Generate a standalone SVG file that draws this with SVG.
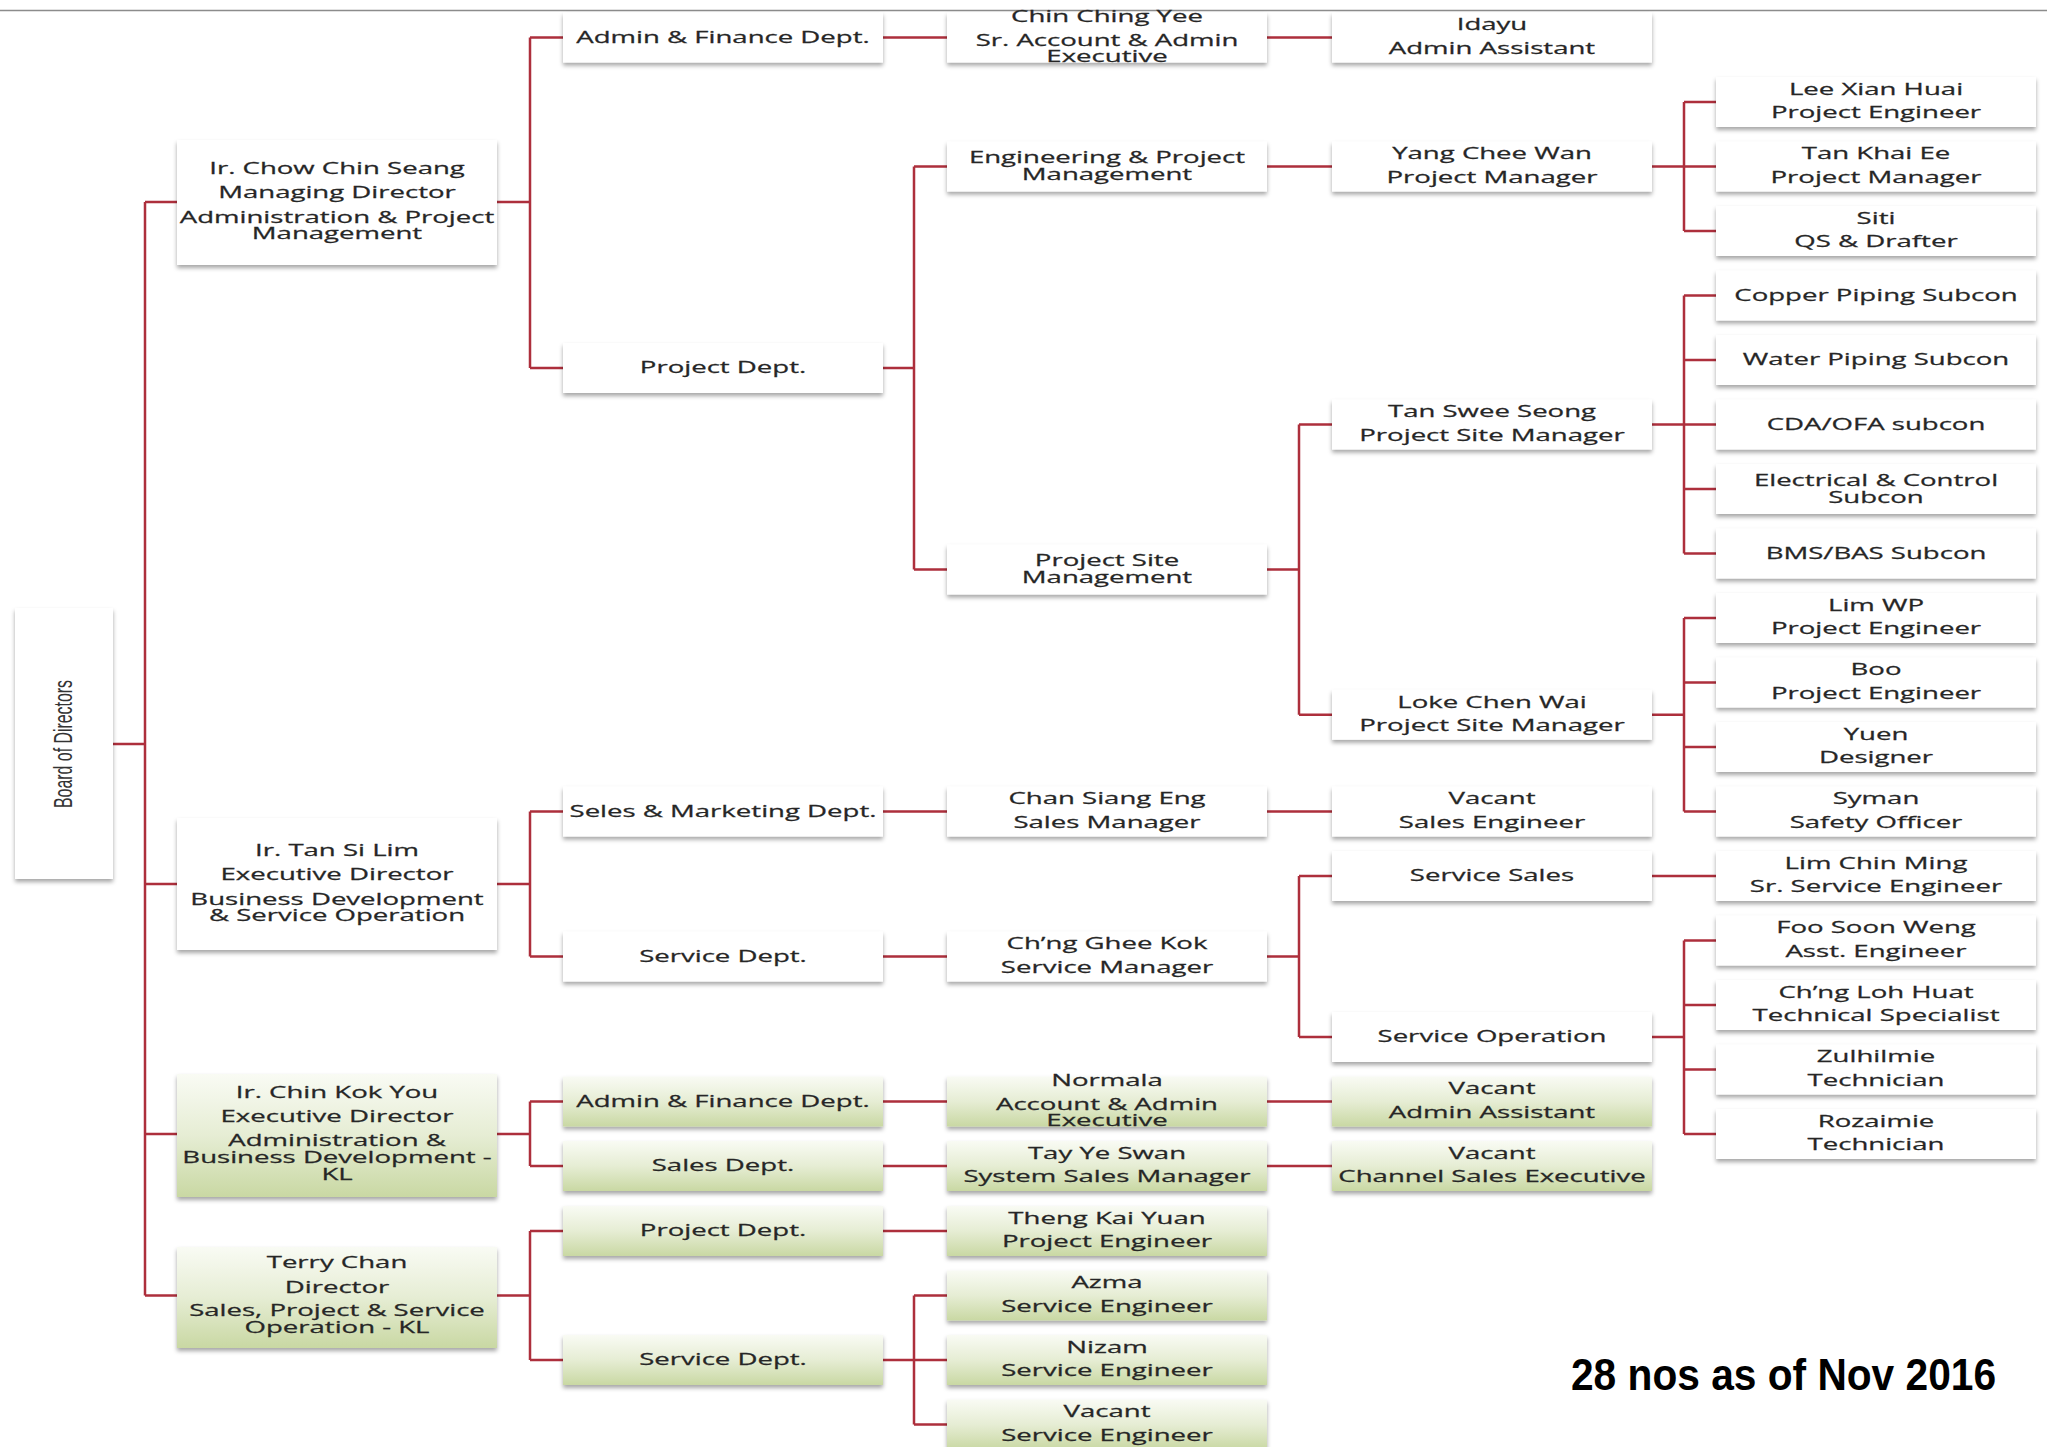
<svg xmlns="http://www.w3.org/2000/svg" width="2047" height="1447" viewBox="0 0 2047 1447">
<defs>
<linearGradient id="gr" x1="0" y1="0" x2="0" y2="1">
<stop offset="0" stop-color="#f9fbf4"/>
<stop offset="0.5" stop-color="#e6edd4"/>
<stop offset="1" stop-color="#c9d8a3"/>
</linearGradient>
<filter id="sh" x="-5%" y="-10%" width="110%" height="130%">
<feDropShadow dx="0" dy="3" stdDeviation="2" flood-color="#000" flood-opacity="0.35"/>
</filter>
<style>
.box{fill:#fff;filter:url(#sh)}
.gbox{fill:url(#gr);filter:url(#sh)}
.t{font-family:"Open Sans","DejaVu Sans",sans-serif;font-size:16.5px;fill:#262626;stroke:#262626;stroke-width:0.25;text-anchor:middle}
.c{stroke:#ad2f3c;stroke-width:2.5;fill:none}
</style>
</defs>
<rect x="0" y="0" width="2047" height="1447" fill="#fff"/>
<line x1="0" y1="10.5" x2="2047" y2="10.5" stroke="#8c8c8c" stroke-width="1.5"/>

<g id="connectors" class="c">
<path d="M113 744H145M145 202V1295.5M145 202H177M145 884H177M145 1134H177M145 1295.5H177"/>
<path d="M497 202H530M497 884H530M497 1134H530M497 1295.5H530"/>
<path d="M530 37.5V368M530 811.5V956.5M530 1101.5V1166M530 1231V1360"/>
<path d="M530 37.5H563M530 368H563M530 811.5H563M530 956.5H563M530 1101.5H563M530 1166H563M530 1231H563M530 1360H563"/>
<path d="M883 37.5H947M883 811.5H947M883 956.5H947M883 1101.5H947M883 1166H947M883 1231H947"/>
<path d="M883 368H914M914 166.5V569.5M914 166.5H947M914 569.5H947"/>
<path d="M883 1360H914M914 1295.5V1424.5M914 1295.5H947M914 1360H947M914 1424.5H947"/>
<path d="M1267 37.5H1332M1267 166.5H1332M1267 811.5H1332M1267 1101.5H1332M1267 1166H1332"/>
<path d="M1267 569.5H1299M1299 424.5V714.75M1299 424.5H1332M1299 714.75H1332"/>
<path d="M1267 956.5H1299M1299 876V1037M1299 876H1332M1299 1037H1332"/>
<path d="M1652 166.5H1684M1684 102V231M1684 102H1716M1684 166.5H1716M1684 231H1716"/>
<path d="M1652 424.5H1684M1684 295.5V553.5M1684 295.5H1716M1684 360H1716M1684 424.5H1716M1684 489H1716M1684 553.5H1716"/>
<path d="M1652 714.75H1684M1684 618V811.5M1684 618H1716M1684 682.5H1716M1684 747H1716M1684 811.5H1716"/>
<path d="M1652 876H1716"/>
<path d="M1652 1037H1684M1684 940.5V1134M1684 940.5H1716M1684 1005H1716M1684 1069.5H1716M1684 1134H1716"/>
</g>

<g id="board">
<rect class="box" x="15" y="608" width="98" height="271"/>
<text transform="translate(72 744) rotate(-90)" font-family="'Liberation Sans',sans-serif" font-size="26" fill="#333" text-anchor="middle" textLength="128" lengthAdjust="spacingAndGlyphs">Board of Directors</text>
</g>

<!-- Level 1 -->
<g id="n-chow"><rect class="box" x="177" y="140" width="320" height="125"/>
<g class="t" transform="translate(337 0) scale(1.67 1)"><text y="174">Ir. Chow Chin Seang</text><text y="198">Managing Director</text><text y="223">Administration &amp; Project</text><text y="239">Management</text></g></g>
<g id="n-tan"><rect class="box" x="177" y="818" width="320" height="132"/>
<g class="t" transform="translate(337 0) scale(1.67 1)"><text y="856">Ir. Tan Si Lim</text><text y="880">Executive Director</text><text y="905">Business Development</text><text y="921.5">&amp; Service Operation</text></g></g>
<g id="n-chin"><rect class="gbox" x="177" y="1074" width="320" height="123"/>
<g class="t" transform="translate(337 0) scale(1.67 1)"><text y="1098">Ir. Chin Kok You</text><text y="1122">Executive Director</text><text y="1146.5">Administration &amp;</text><text y="1163">Business Development -</text><text y="1180.5">KL</text></g></g>
<g id="n-terry"><rect class="gbox" x="177" y="1247" width="320" height="101"/>
<g class="t" transform="translate(337 0) scale(1.67 1)"><text y="1268">Terry Chan</text><text y="1292.5">Director</text><text y="1316.5">Sales, Project &amp; Service</text><text y="1333">Operation - KL</text></g></g>

<!-- Level 2 -->
<g id="n-admin1"><rect class="box" x="563" y="12.5" width="320" height="50"/>
<g class="t" transform="translate(723 0) scale(1.67 1)"><text y="43">Admin &amp; Finance Dept.</text></g></g>
<g id="n-projdept"><rect class="box" x="563" y="343" width="320" height="50"/>
<g class="t" transform="translate(723 0) scale(1.67 1)"><text y="373.5">Project Dept.</text></g></g>
<g id="n-seles"><rect class="box" x="563" y="786.5" width="320" height="50"/>
<g class="t" transform="translate(723 0) scale(1.67 1)"><text y="817">Seles &amp; Marketing Dept.</text></g></g>
<g id="n-servdept"><rect class="box" x="563" y="931.5" width="320" height="50"/>
<g class="t" transform="translate(723 0) scale(1.67 1)"><text y="962">Service Dept.</text></g></g>
<g id="n-admin2"><rect class="gbox" x="563" y="1076.5" width="320" height="50"/>
<g class="t" transform="translate(723 0) scale(1.67 1)"><text y="1107">Admin &amp; Finance Dept.</text></g></g>
<g id="n-salesdept"><rect class="gbox" x="563" y="1141" width="320" height="50"/>
<g class="t" transform="translate(723 0) scale(1.67 1)"><text y="1171.5">Sales Dept.</text></g></g>
<g id="n-projdept2"><rect class="gbox" x="563" y="1206" width="320" height="50"/>
<g class="t" transform="translate(723 0) scale(1.67 1)"><text y="1236.5">Project Dept.</text></g></g>
<g id="n-servdept2"><rect class="gbox" x="563" y="1335" width="320" height="50"/>
<g class="t" transform="translate(723 0) scale(1.67 1)"><text y="1365.5">Service Dept.</text></g></g>

<!-- Level 3 -->
<g id="n-chinching"><rect class="box" x="947" y="12.5" width="320" height="50"/>
<g class="t" transform="translate(1107 0) scale(1.67 1)"><text y="22.5">Chin Ching Yee</text><text y="46.5">Sr. Account &amp; Admin</text><text y="62.5">Executive</text></g></g>
<g id="n-engpm"><rect class="box" x="947" y="141.5" width="320" height="50"/>
<g class="t" transform="translate(1107 0) scale(1.67 1)"><text y="163.5">Engineering &amp; Project</text><text y="180.5">Management</text></g></g>
<g id="n-psm"><rect class="box" x="947" y="544.5" width="320" height="50"/>
<g class="t" transform="translate(1107 0) scale(1.67 1)"><text y="566.5">Project Site</text><text y="583.5">Management</text></g></g>
<g id="n-chan"><rect class="box" x="947" y="786.5" width="320" height="50"/>
<g class="t" transform="translate(1107 0) scale(1.67 1)"><text y="804.5">Chan Siang Eng</text><text y="828">Sales Manager</text></g></g>
<g id="n-chng"><rect class="box" x="947" y="931.5" width="320" height="50"/>
<g class="t" transform="translate(1107 0) scale(1.67 1)"><text y="949.5">Ch’ng Ghee Kok</text><text y="973">Service Manager</text></g></g>
<g id="n-normala"><rect class="gbox" x="947" y="1076.5" width="320" height="50"/>
<g class="t" transform="translate(1107 0) scale(1.67 1)"><text y="1086.5">Normala</text><text y="1110.5">Account &amp; Admin</text><text y="1126.5">Executive</text></g></g>
<g id="n-tay"><rect class="gbox" x="947" y="1141" width="320" height="50"/>
<g class="t" transform="translate(1107 0) scale(1.67 1)"><text y="1159">Tay Ye Swan</text><text y="1182.5">System Sales Manager</text></g></g>
<g id="n-theng"><rect class="gbox" x="947" y="1206" width="320" height="50"/>
<g class="t" transform="translate(1107 0) scale(1.67 1)"><text y="1224">Theng Kai Yuan</text><text y="1247.5">Project Engineer</text></g></g>
<g id="n-azma"><rect class="gbox" x="947" y="1270.5" width="320" height="50"/>
<g class="t" transform="translate(1107 0) scale(1.67 1)"><text y="1288.5">Azma</text><text y="1312">Service Engineer</text></g></g>
<g id="n-nizam"><rect class="gbox" x="947" y="1335" width="320" height="50"/>
<g class="t" transform="translate(1107 0) scale(1.67 1)"><text y="1353">Nizam</text><text y="1376.5">Service Engineer</text></g></g>
<g id="n-vacant3"><rect class="gbox" x="947" y="1399.5" width="320" height="50"/>
<g class="t" transform="translate(1107 0) scale(1.67 1)"><text y="1417.5">Vacant</text><text y="1441">Service Engineer</text></g></g>

<!-- Level 4 -->
<g id="n-idayu"><rect class="box" x="1332" y="12.5" width="320" height="50"/>
<g class="t" transform="translate(1492 0) scale(1.67 1)"><text y="30.5">Idayu</text><text y="54">Admin Assistant</text></g></g>
<g id="n-yang"><rect class="box" x="1332" y="141.5" width="320" height="50"/>
<g class="t" transform="translate(1492 0) scale(1.67 1)"><text y="159.5">Yang Chee Wan</text><text y="183">Project Manager</text></g></g>
<g id="n-tanswee"><rect class="box" x="1332" y="399.5" width="320" height="50"/>
<g class="t" transform="translate(1492 0) scale(1.67 1)"><text y="417.5">Tan Swee Seong</text><text y="441">Project Site Manager</text></g></g>
<g id="n-loke"><rect class="box" x="1332" y="689.75" width="320" height="50"/>
<g class="t" transform="translate(1492 0) scale(1.67 1)"><text y="707.75">Loke Chen Wai</text><text y="731.25">Project Site Manager</text></g></g>
<g id="n-vacsales"><rect class="box" x="1332" y="786.5" width="320" height="50"/>
<g class="t" transform="translate(1492 0) scale(1.67 1)"><text y="804.5">Vacant</text><text y="828">Sales Engineer</text></g></g>
<g id="n-servsales"><rect class="box" x="1332" y="851" width="320" height="50"/>
<g class="t" transform="translate(1492 0) scale(1.67 1)"><text y="881.5">Service Sales</text></g></g>
<g id="n-servop"><rect class="box" x="1332" y="1012" width="320" height="50"/>
<g class="t" transform="translate(1492 0) scale(1.67 1)"><text y="1042.5">Service Operation</text></g></g>
<g id="n-vacadmin"><rect class="gbox" x="1332" y="1076.5" width="320" height="50"/>
<g class="t" transform="translate(1492 0) scale(1.67 1)"><text y="1094.5">Vacant</text><text y="1118">Admin Assistant</text></g></g>
<g id="n-vacchannel"><rect class="gbox" x="1332" y="1141" width="320" height="50"/>
<g class="t" transform="translate(1492 0) scale(1.67 1)"><text y="1159">Vacant</text><text y="1182.5">Channel Sales Executive</text></g></g>

<!-- Level 5 -->
<g id="n-lee"><rect class="box" x="1716" y="77" width="320" height="50"/>
<g class="t" transform="translate(1876 0) scale(1.67 1)"><text y="95">Lee Xian Huai</text><text y="118.5">Project Engineer</text></g></g>
<g id="n-tankhai"><rect class="box" x="1716" y="141.5" width="320" height="50"/>
<g class="t" transform="translate(1876 0) scale(1.67 1)"><text y="159.5">Tan Khai Ee</text><text y="183">Project Manager</text></g></g>
<g id="n-siti"><rect class="box" x="1716" y="206" width="320" height="50"/>
<g class="t" transform="translate(1876 0) scale(1.67 1)"><text y="224">Siti</text><text y="247.5">QS &amp; Drafter</text></g></g>
<g id="n-copper"><rect class="box" x="1716" y="270.5" width="320" height="50"/>
<g class="t" transform="translate(1876 0) scale(1.67 1)"><text y="301">Copper Piping Subcon</text></g></g>
<g id="n-water"><rect class="box" x="1716" y="335" width="320" height="50"/>
<g class="t" transform="translate(1876 0) scale(1.67 1)"><text y="365.5">Water Piping Subcon</text></g></g>
<g id="n-cda"><rect class="box" x="1716" y="399.5" width="320" height="50"/>
<g class="t" transform="translate(1876 0) scale(1.67 1)"><text y="430">CDA/OFA subcon</text></g></g>
<g id="n-elec"><rect class="box" x="1716" y="464" width="320" height="50"/>
<g class="t" transform="translate(1876 0) scale(1.67 1)"><text y="486">Electrical &amp; Control</text><text y="503">Subcon</text></g></g>
<g id="n-bms"><rect class="box" x="1716" y="528.5" width="320" height="50"/>
<g class="t" transform="translate(1876 0) scale(1.67 1)"><text y="559">BMS/BAS Subcon</text></g></g>
<g id="n-limwp"><rect class="box" x="1716" y="593" width="320" height="50"/>
<g class="t" transform="translate(1876 0) scale(1.67 1)"><text y="611">Lim WP</text><text y="634.5">Project Engineer</text></g></g>
<g id="n-boo"><rect class="box" x="1716" y="657.5" width="320" height="50"/>
<g class="t" transform="translate(1876 0) scale(1.67 1)"><text y="675.5">Boo</text><text y="699">Project Engineer</text></g></g>
<g id="n-yuen"><rect class="box" x="1716" y="722" width="320" height="50"/>
<g class="t" transform="translate(1876 0) scale(1.67 1)"><text y="740">Yuen</text><text y="763.5">Designer</text></g></g>
<g id="n-syman"><rect class="box" x="1716" y="786.5" width="320" height="50"/>
<g class="t" transform="translate(1876 0) scale(1.67 1)"><text y="804.5">Syman</text><text y="828">Safety Officer</text></g></g>
<g id="n-limchin"><rect class="box" x="1716" y="851" width="320" height="50"/>
<g class="t" transform="translate(1876 0) scale(1.67 1)"><text y="869">Lim Chin Ming</text><text y="892.5">Sr. Service Engineer</text></g></g>
<g id="n-foo"><rect class="box" x="1716" y="915.5" width="320" height="50"/>
<g class="t" transform="translate(1876 0) scale(1.67 1)"><text y="933.5">Foo Soon Weng</text><text y="957">Asst. Engineer</text></g></g>
<g id="n-chngloh"><rect class="box" x="1716" y="980" width="320" height="50"/>
<g class="t" transform="translate(1876 0) scale(1.67 1)"><text y="998">Ch’ng Loh Huat</text><text y="1021.5">Technical Specialist</text></g></g>
<g id="n-zul"><rect class="box" x="1716" y="1044.5" width="320" height="50"/>
<g class="t" transform="translate(1876 0) scale(1.67 1)"><text y="1062.5">Zulhilmie</text><text y="1086">Technician</text></g></g>
<g id="n-roz"><rect class="box" x="1716" y="1109" width="320" height="50"/>
<g class="t" transform="translate(1876 0) scale(1.67 1)"><text y="1127">Rozaimie</text><text y="1150.5">Technician</text></g></g>

<text id="note" x="1571" y="1390" font-family="'Liberation Sans',sans-serif" font-weight="bold" font-size="44" fill="#000" textLength="425" lengthAdjust="spacingAndGlyphs">28 nos as of Nov 2016</text>
</svg>
